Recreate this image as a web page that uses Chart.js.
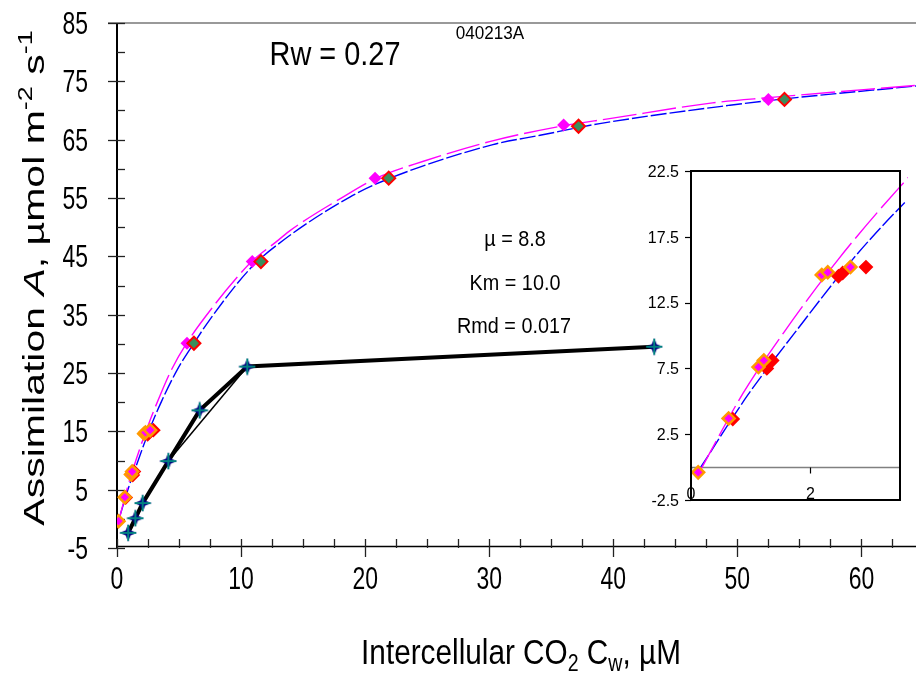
<!DOCTYPE html>
<html>
<head>
<meta charset="utf-8">
<script src="https://cdn.jsdelivr.net/npm/chart.js@4.4.0/dist/chart.umd.min.js"></script>
<style>
  html, body { margin: 0; padding: 0; background: #fff; }
  #wrap  { position: relative; width: 916px; height: 673px; overflow: hidden; }
  #main  { position: absolute; left: 0; top: 0; }
  #inset { position: absolute; left: 636px; top: 150px; }
</style>
</head>
<body>
<div id="wrap">
  <canvas id="main" width="916" height="673"></canvas>
  <canvas id="inset" width="280" height="370"></canvas>
</div>
<script>
/* ─── Data ────────────────────────────────────────────────── */
// fitted curves
const magCurveX  = [0.15, 0.87, 1.55, 2.46, 3.48, 4.4, 5.64, 7.9, 9.8, 10.9, 12.9, 14.0, 18.0, 20.9, 24.7, 30.1, 36.0, 39.7, 48.0, 52.5, 64.4];
const magCurveY  = [-0.3, 5.6, 10.2, 15.75, 21.2, 25.6, 30.2, 36.8, 41.7, 44.2, 47.6, 49.5, 54.9, 58.4, 61.3, 64.7, 67.4, 68.6, 71.3, 72.2, 74.3];
const blueCurveX = [0.15, 0.955, 1.72, 2.7, 3.58, 4.84, 6.2, 7.5, 10.74, 13.4, 18.8, 21.9, 30.3, 34.1, 38.9, 49.4, 53.8, 64.4];
const blueCurveY = [-0.1, 5.5, 10.1, 15.75, 20.1, 25.5, 30.1, 34.2, 42.9, 47.75, 55.2, 58.3, 64.15, 65.75, 67.75, 70.9, 72.0, 74.2];

// measured points
const magPtX  = [5.64, 10.9, 20.8, 36.0, 52.5];
const magPtY  = [30.1, 44.1, 58.4, 67.5, 71.9];
const grnPtX  = [6.2, 11.6, 21.9, 37.2, 53.8];
const grnPtY  = [30.1, 44.1, 58.4, 67.3, 71.9];
const lowPtX  = [0.12, 0.63, 1.13, 1.22, 2.19, 2.29, 2.67];
const lowPtY  = [-0.4, 3.7, 7.6, 8.1, 14.6, 14.8, 15.2];
const redPtX  = [0.70, 1.27, 1.36, 2.47, 2.54, 2.93];
const redPtY  = [3.65, 7.5, 8.1, 14.5, 14.75, 15.2];
const blkPtX  = [0.9, 1.48, 2.07, 4.14, 6.66, 10.5, 43.3];
const blkPtY  = [-2.4, 0.1, 2.7, 9.9, 18.6, 26.1, 29.5];
const thinX   = [4.14, 10.5];
const thinY   = [9.9, 26.1];

// ticks
const xTicks      = [0, 10, 20, 30, 40, 50, 60];
const yTicks      = [-5, 5, 15, 25, 35, 45, 55, 65, 75, 85];
const insetXTicks = [0, 2];
const insetYTicks = [-2.5, 2.5, 7.5, 12.5, 17.5, 22.5];

/* ─── Helpers ─────────────────────────────────────────────── */
const FAMILY = '"Liberation Sans", Arial, sans-serif';
const pts = (xs, ys) => xs.map((x, i) => ({ x, y: ys[i] }));

function txt(ctx, s, x, y, size, align, sx) {
  ctx.save();
  ctx.translate(x, y);
  ctx.scale(sx, 1);
  ctx.font = `${size}px ${FAMILY}`;
  ctx.fillStyle = '#000';
  ctx.textAlign = align;
  ctx.textBaseline = 'alphabetic';
  ctx.fillText(s, 0, size * 0.36);
  ctx.restore();
}

function rich(ctx, parts, x, y, size, sx, rot) {
  ctx.save();
  ctx.translate(x, y);
  if (rot) { ctx.rotate(rot); ctx.scale(1, sx); } else ctx.scale(sx, 1);
  const fnt = p => `${p.it ? 'italic ' : ''}${(p.sub || p.sup) ? Math.round(size * 0.65) : size}px ${FAMILY}`;
  let w = 0;
  parts.forEach(p => { ctx.font = fnt(p); p.w = ctx.measureText(p.t).width; w += p.w; });
  let cx = -w / 2;
  ctx.fillStyle = '#000';
  ctx.textAlign = 'left';
  ctx.textBaseline = 'alphabetic';
  parts.forEach(p => {
    ctx.font = fnt(p);
    const dy = p.sub ? size * 0.22 : p.sup ? -size * 0.38 : 0;
    ctx.fillText(p.t, cx, size * 0.36 + dy);
    cx += p.w;
  });
  ctx.restore();
}

function starMarker() {
  const c = document.createElement('canvas');
  c.width = 18; c.height = 18;
  const g = c.getContext('2d');
  g.fillStyle = '#000080';
  g.beginPath();
  g.moveTo(9, 0); g.lineTo(11.5, 6.5); g.lineTo(18, 9); g.lineTo(11.5, 11.5);
  g.lineTo(9, 18); g.lineTo(6.5, 11.5); g.lineTo(0, 9); g.lineTo(6.5, 6.5);
  g.closePath(); g.fill();
  g.strokeStyle = '#008080'; g.lineWidth = 2;
  g.beginPath(); g.moveTo(9, 1); g.lineTo(9, 17); g.moveTo(1, 9); g.lineTo(17, 9); g.stroke();
  return c;
}
const STAR = starMarker();

/* ─── Dataset builders ────────────────────────────────────── */
function curve(xs, ys, color, dash) {
  return {
    data: pts(xs, ys), showLine: true, pointRadius: 0,
    borderColor: color, borderWidth: 1.4, borderDash: dash,
    cubicInterpolationMode: 'monotone',
  };
}
function diamonds(xs, ys, fill, border, r, bw) {
  return {
    data: pts(xs, ys), showLine: false, pointStyle: 'rectRot',
    pointRadius: r, backgroundColor: fill, borderColor: border, borderWidth: bw,
  };
}

/* ─── Main chart ──────────────────────────────────────────── */
const mainAxes = {
  id: 'mainAxes',
  beforeDatasetsDraw(chart) {
    const { ctx, chartArea: a, scales: { x, y } } = chart;
    ctx.save();
    // top frame
    ctx.strokeStyle = '#777'; ctx.lineWidth = 1.5;
    ctx.beginPath(); ctx.moveTo(a.left - 9, a.top); ctx.lineTo(a.right, a.top); ctx.stroke();
    // axes
    ctx.strokeStyle = '#000'; ctx.lineWidth = 2;
    ctx.beginPath(); ctx.moveTo(a.left, a.top); ctx.lineTo(a.left, a.bottom); ctx.stroke();
    ctx.lineWidth = 1.5;
    ctx.beginPath(); ctx.moveTo(a.left, a.bottom - 1.5); ctx.lineTo(a.right, a.bottom - 1.5); ctx.stroke();
    // y ticks
    ctx.lineWidth = 1.3; ctx.strokeStyle = '#222';
    for (let v = -5; v <= 85; v += 5) {
      const py = Math.round(y.getPixelForValue(v)) + 0.5;
      const major = yTicks.includes(v);
      ctx.beginPath(); ctx.moveTo(a.left - (major ? 9 : 0), py); ctx.lineTo(a.left + 8, py); ctx.stroke();
    }
    // x ticks
    for (let v = 0; v <= 64; v += 2.5) {
      const px = Math.round(x.getPixelForValue(v)) + 0.5;
      const major = xTicks.includes(v);
      ctx.beginPath(); ctx.moveTo(px, a.bottom - 9); ctx.lineTo(px, a.bottom + (major ? 9 : 0)); ctx.stroke();
    }
    ctx.restore();
  },
  afterDraw(chart) {
    const { ctx, scales: { x, y } } = chart;
    yTicks.forEach(v => txt(ctx, String(v), 88, y.getPixelForValue(v), 31, 'right', 0.74));
    xTicks.forEach(v => txt(ctx, String(v), x.getPixelForValue(v), 578, 31, 'center', 0.74));

    rich(ctx, [{ t: 'Intercellular CO' }, { t: '2', sub: 1 }, { t: ' C' }, { t: 'w', sub: 1 }, { t: ', µM' }],
      521, 651, 35, 0.85);
    rich(ctx, [{ t: 'Assimilation ' }, { t: 'A', it: 1 }, { t: ', µmol m' }, { t: '-2', sup: 1 }, { t: ' s' }, { t: '-1', sup: 1 }],
      33, 278, 41, 0.72, -Math.PI / 2);

    txt(ctx, '040213A', 490, 33, 18, 'center', 0.95);
    txt(ctx, 'Rw = 0.27', 335, 53, 34, 'center', 0.85);
    txt(ctx, 'µ = 8.8', 515, 238, 22, 'center', 0.9);
    txt(ctx, 'Km = 10.0', 515, 282, 22, 'center', 0.9);
    txt(ctx, 'Rmd = 0.017', 514, 325, 22, 'center', 0.9);
  },
};

new Chart(document.getElementById('main'), {
  type: 'scatter',
  data: {
    datasets: [
      { data: pts(blkPtX, blkPtY), showLine: true, borderColor: '#000', borderWidth: 4,
        pointStyle: STAR, pointRadius: 9 },
      { data: pts(thinX, thinY), showLine: true, borderColor: '#000', borderWidth: 1.5, pointRadius: 0 },
      diamonds(lowPtX, lowPtY, '#FF00FF', '#FF9900', 6, 2.5),
      diamonds(redPtX, redPtY, '#FF0000', '#FF0000', 6, 2),
      diamonds(grnPtX, grnPtY, '#3A8E5C', '#FF0000', 6.5, 2),
      diamonds(magPtX, magPtY, '#FF00FF', '#FF00FF', 6.5, 0),
      curve(magCurveX, magCurveY, '#FF00FF', [34, 6]),
      curve(blueCurveX, blueCurveY, '#0000FF', [16, 3]),
    ],
  },
  options: {
    responsive: false,
    animation: false,
    layout: { autoPadding: false, padding: { left: 117, top: 23, right: 0, bottom: 125 } },
    scales: {
      x: { type: 'linear', display: false, min: 0, max: 64.4 },
      y: { type: 'linear', display: false, min: -5, max: 85 },
    },
    plugins: { legend: { display: false }, tooltip: { enabled: false } },
  },
  plugins: [mainAxes],
});

/* ─── Inset chart ─────────────────────────────────────────── */
const insetAxes = {
  id: 'insetAxes',
  beforeDatasetsDraw(chart) {
    const { ctx, chartArea: a, scales: { x, y } } = chart;
    ctx.save();
    ctx.fillStyle = '#fff';
    ctx.fillRect(a.left, a.top, a.right - a.left, a.bottom - a.top);
    const y0 = Math.round(y.getPixelForValue(0)) + 0.5;
    ctx.strokeStyle = '#808080'; ctx.lineWidth = 1.5;
    ctx.beginPath(); ctx.moveTo(a.left, y0); ctx.lineTo(a.right, y0); ctx.stroke();
    ctx.strokeStyle = '#000'; ctx.lineWidth = 1.2;
    insetXTicks.forEach(v => {
      const px = Math.round(x.getPixelForValue(v)) + 0.5;
      ctx.beginPath(); ctx.moveTo(px, y0); ctx.lineTo(px, y0 + 6); ctx.stroke();
    });
    insetYTicks.forEach(v => {
      const py = Math.round(y.getPixelForValue(v)) + 0.5;
      ctx.beginPath(); ctx.moveTo(a.left - 6, py); ctx.lineTo(a.left, py); ctx.stroke();
    });
    ctx.restore();
  },
  afterDraw(chart) {
    const { ctx, chartArea: a, scales: { x, y } } = chart;
    ctx.save();
    ctx.strokeStyle = '#000'; ctx.lineWidth = 2;
    ctx.strokeRect(a.left, a.top, a.right - a.left, a.bottom - a.top);
    ctx.restore();
    insetYTicks.forEach(v => txt(ctx, String(v), a.left - 12, y.getPixelForValue(v), 16, 'right', 1));
    insetXTicks.forEach(v => txt(ctx, String(v), x.getPixelForValue(v), 343, 16, 'center', 1));
  },
};

const insetClip = { left: 2, top: 0, right: 8, bottom: 2 };
new Chart(document.getElementById('inset'), {
  type: 'scatter',
  data: {
    datasets: [
      Object.assign(diamonds(lowPtX, lowPtY, '#FF00FF', '#FF9900', 6, 2.5), { clip: insetClip }),
      Object.assign(diamonds(redPtX, redPtY, '#FF0000', '#FF0000', 6, 2), { clip: insetClip }),
      Object.assign(curve(magCurveX, magCurveY, '#FF00FF', [34, 6]), { clip: insetClip }),
      Object.assign(curve(blueCurveX, blueCurveY, '#0000FF', [16, 3]), { clip: insetClip }),
    ],
  },
  options: {
    responsive: false,
    animation: false,
    layout: { autoPadding: false, padding: { left: 55, top: 21, right: 16, bottom: 20 } },
    scales: {
      x: { type: 'linear', display: false, min: 0, max: 3.5 },
      y: { type: 'linear', display: false, min: -2.5, max: 22.5 },
    },
    plugins: { legend: { display: false }, tooltip: { enabled: false } },
  },
  plugins: [insetAxes],
});
</script>
</body>
</html>
